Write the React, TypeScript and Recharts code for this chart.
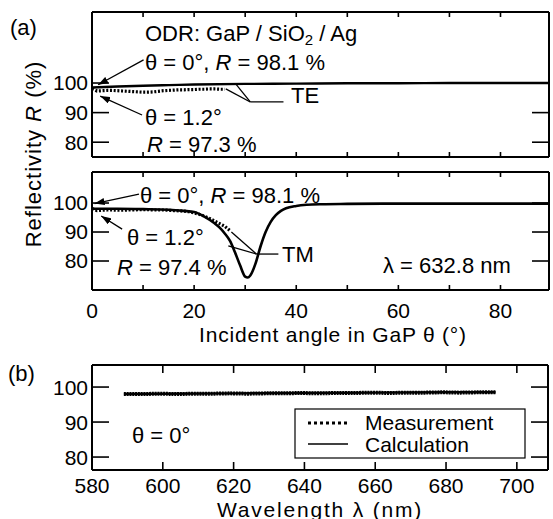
import React from 'react';
import { LineChart, Line, XAxis, YAxis, ReferenceLine } from 'recharts';

const FONT = '"Liberation Sans", Arial, Helvetica, sans-serif';

// (a) upper panel: TE, calculation and measurement
const teCalcAngle = [0, 5, 10, 15, 20, 30, 40, 50, 60, 70, 80, 89.5];
const teCalcR = [98.5, 98.8, 99.1, 99.3, 99.5, 99.7, 99.8, 99.9, 99.9, 100, 100, 100];
const teMeasAngle = [0, 1, 2, 3, 4, 5, 6, 7, 8, 9, 10, 11, 12, 13, 14, 15, 16, 17, 18, 19, 20, 21, 22, 23, 24, 25, 26];
const teMeasR = [98.1, 97.3, 97.4, 97.5, 97.5, 97.4, 97.3, 97.2, 97.1, 97.0, 96.9, 96.9, 97.0, 97.2, 97.4, 97.5, 97.6, 97.7, 97.7, 97.8, 97.8, 97.9, 97.9, 98.0, 98.0, 97.9, 97.9];

// (a) lower panel: TM
const tmCalcAngle = [0, 5, 10, 15, 18, 20, 22, 24, 25, 26, 27, 28, 29, 30, 30.5, 31, 32, 33, 34, 35, 36, 37, 38, 40, 42, 45, 50, 60, 70, 80, 89.5];
const tmCalcR = [98.0, 98.0, 97.9, 97.7, 97.3, 96.9, 95.3, 93.0, 91.5, 89.5, 87.0, 83.0, 78.5, 74.6, 74.3, 75.0, 79.0, 85.0, 90.0, 93.5, 95.8, 97.3, 98.2, 99.0, 99.4, 99.6, 99.7, 99.8, 99.8, 99.8, 99.8];
const tmMeasAngle = [0, 1, 2, 3, 4, 5, 6, 7, 8, 9, 10, 11, 12, 13, 14, 15, 16, 17, 18, 19, 20, 21, 22, 23, 24, 25, 26, 27];
const tmMeasR = [98.1, 97.4, 97.5, 97.6, 97.6, 97.5, 97.5, 97.6, 97.6, 97.7, 97.7, 97.7, 97.6, 97.6, 97.6, 97.5, 97.4, 97.3, 97.2, 97.0, 96.6, 96.1, 95.5, 94.7, 93.8, 92.9, 92.0, 90.5];

// (b) wavelength dependence at θ = 0°
const wlMeas = [589, 594, 599, 604, 609, 614, 619, 624, 629, 634, 639, 644, 649, 654, 659, 664, 669, 674, 679, 684, 689, 694];
const wlMeasR = [98.0, 98.0, 98.1, 98.0, 98.1, 98.1, 98.2, 98.1, 98.2, 98.2, 98.3, 98.2, 98.3, 98.3, 98.4, 98.3, 98.4, 98.4, 98.5, 98.4, 98.5, 98.5];
const wlCalc = [589, 600, 620, 640, 660, 680, 694];
const wlCalcR = [98.0, 98.1, 98.2, 98.3, 98.4, 98.5, 98.5];

const angleTicks = [0, 10, 20, 30, 40, 50, 60, 70, 80];
const rTicks = [80, 90, 100];
const wlTicks = [580, 600, 620, 640, 660, 680, 700];

// annotation arrows / leader lines, in data coordinates [x1, y1, x2, y2, arrowhead]
const teArrows: [number, number, number, number, boolean][] = [
  [10.1, 107.8, 1.2, 99.4, true],
  [9.8, 89.2, 1.6, 95.6, true],
  [26.2, 98.0, 31.0, 93.6, false],
  [28.1, 99.8, 31.0, 93.6, false],
  [31.0, 93.6, 37.5, 93.6, false],
];
const tmArrows: [number, number, number, number, boolean][] = [
  [9.2, 103.1, 0.5, 99.8, true],
  [5.9, 91.0, 1.8, 95.5, true],
  [27.3, 90.0, 32.2, 82.4, false],
  [26.7, 85.2, 32.2, 82.4, false],
  [32.2, 82.4, 36.5, 82.4, false],
];

const zip = (xs: number[], ys: number[]) => xs.map((x, i) => ({ x, r: ys[i] }));

const axisLine = { stroke: '#000', strokeWidth: 2 };
const tickLine = { stroke: '#000', strokeWidth: 1.6 };
const tickFont = { fontSize: 21, fill: '#000', fontFamily: FONT };
const none = () => '';

const segShape = (head: boolean) => (p: any) => (
  <line x1={p.x1} y1={p.y1} x2={p.x2} y2={p.y2} stroke="#000" strokeWidth={1.3}
    markerEnd={head ? 'url(#arrowHead)' : undefined} />
);

function frame(xDomain: number[], xTicks: number[], yDomain: number[], xLen: number, xFormat: (v: number) => string, xMargin: number, xHeight: number) {
  return [
    <XAxis key="xb" type="number" dataKey="x" domain={xDomain} ticks={xTicks} interval={0} allowDataOverflow
      height={xHeight} tickSize={-xLen} tickMargin={xMargin} tickFormatter={xFormat}
      axisLine={axisLine} tickLine={tickLine} tick={tickFont} />,
    <XAxis key="xt" xAxisId="t" orientation="top" type="number" dataKey="x" domain={xDomain} ticks={xTicks} interval={0}
      allowDataOverflow height={1} tickSize={-xLen} tickFormatter={none} axisLine={axisLine} tickLine={tickLine} />,
    <YAxis key="yl" type="number" domain={yDomain} ticks={rTicks} interval={0} allowDataOverflow width={92}
      tickSize={-17} tickMargin={21} axisLine={axisLine} tickLine={tickLine} tick={tickFont} />,
    <YAxis key="yr" yAxisId="r" orientation="right" type="number" domain={yDomain} ticks={rTicks} interval={0}
      allowDataOverflow width={1} tickSize={-17} tickFormatter={none} axisLine={axisLine} tickLine={tickLine} />,
  ];
}

const measStyle = { stroke: '#000', strokeWidth: 3.2, strokeDasharray: '2 1.7' };

export default function App() {
  const angleFmt = (v: number) => (v % 20 === 0 ? String(v) : '');
  return (
    <div style={{ position: 'absolute', left: 0, top: 0, width: 553, height: 519, background: '#fff', fontFamily: FONT }}>
      <div style={{ position: 'absolute', left: 0, top: 0 }}>
        <LineChart width={553} height={170} margin={{ top: 11, right: 3, bottom: 12, left: 0 }}>
          {frame([0, 89.5], angleTicks, [75, 124], 5, none, 0, 1)}
          <Line data={zip(teCalcAngle, teCalcR)} dataKey="r" type="monotone" stroke="#000" strokeWidth={2.4}
            dot={false} activeDot={false} isAnimationActive={false} />
          <Line data={zip(teMeasAngle, teMeasR)} dataKey="r" type="linear" {...measStyle}
            dot={false} activeDot={false} isAnimationActive={false} />
          {teArrows.map((a, i) => (
            <ReferenceLine key={i} segment={[{ x: a[0], y: a[1] }, { x: a[2], y: a[3] }]} shape={segShape(a[4])} ifOverflow="visible" />
          ))}
        </LineChart>
      </div>
      <div style={{ position: 'absolute', left: 0, top: 160 }}>
        <LineChart width={553} height={180} margin={{ top: 11, right: 3, bottom: 0, left: 0 }}>
          {frame([0, 89.5], angleTicks, [70, 110.7], 5, angleFmt, 18, 50)}
          <Line data={zip(tmCalcAngle, tmCalcR)} dataKey="r" type="monotone" stroke="#000" strokeWidth={2.6}
            dot={false} activeDot={false} isAnimationActive={false} />
          <Line data={zip(tmMeasAngle, tmMeasR)} dataKey="r" type="linear" {...measStyle}
            dot={false} activeDot={false} isAnimationActive={false} />
          {tmArrows.map((a, i) => (
            <ReferenceLine key={i} segment={[{ x: a[0], y: a[1] }, { x: a[2], y: a[3] }]} shape={segShape(a[4])} ifOverflow="visible" />
          ))}
        </LineChart>
      </div>
      <div style={{ position: 'absolute', left: 0, top: 350 }}>
        <LineChart width={553} height={169} margin={{ top: 14, right: 4, bottom: 0, left: 0 }}>
          {frame([580, 708.8], wlTicks, [76.3, 106.3], 8, (v: number) => String(v), 16, 49)}
          <Line data={zip(wlCalc, wlCalcR)} dataKey="r" type="linear" stroke="#000" strokeWidth={2.4}
            dot={false} activeDot={false} isAnimationActive={false} />
          <Line data={zip(wlMeas, wlMeasR)} dataKey="r" type="linear" stroke="#000" strokeWidth={4} strokeDasharray="2 0.8"
            dot={false} activeDot={false} isAnimationActive={false} />
        </LineChart>
      </div>
      <svg width={553} height={519} style={{ position: 'absolute', left: 0, top: 0, pointerEvents: 'none' }}
        fontFamily={FONT} fill="#000">
        <defs>
          <marker id="arrowHead" viewBox="0 0 10 7" refX="10" refY="3.5" markerWidth="10" markerHeight="7"
            markerUnits="userSpaceOnUse" orient="auto">
            <path d="M0,0 L10,3.5 L0,7 z" fill="#000" />
          </marker>
        </defs>
        <g fontSize={22} dominantBaseline="central">
          <text x={10} y={27}>(a)</text>
          <text x={8} y={373}>(b)</text>
          <text x={145} y={33}>ODR: GaP / SiO<tspan fontSize={15} dy={6}>2</tspan><tspan dy={-6}> / Ag</tspan></text>
          <text x={145} y={62}>θ = 0°, <tspan fontStyle="italic">R</tspan> = 98.1 %</text>
          <text x={145} y={117}>θ = 1.2°</text>
          <text x={147} y={144}><tspan fontStyle="italic">R</tspan> = 97.3 %</text>
          <text x={291} y={95}>TE</text>
          <text x={140} y={195}>θ = 0°, <tspan fontStyle="italic">R</tspan> = 98.1 %</text>
          <text x={127} y={237}>θ = 1.2°</text>
          <text x={117} y={267}><tspan fontStyle="italic">R</tspan> = 97.4 %</text>
          <text x={282} y={254}>TM</text>
          <text x={383} y={265}>λ = 632.8 nm</text>
          <text x={333} y={334} fontSize={21} letterSpacing={0.8} textAnchor="middle">Incident angle in GaP  θ  (°)</text>
          <text x={33} y={154} letterSpacing={1} textAnchor="middle" transform="rotate(-90 33 154)">Reflectivity  <tspan fontStyle="italic">R</tspan>  (%)</text>
          <text x={132} y={435}>θ = 0°</text>
          <text x={320} y={509} fontSize={21} letterSpacing={1.8} textAnchor="middle">Wavelength λ (nm)</text>
          <rect x={295} y={409} width={230} height={49} fill="none" stroke="#000" strokeWidth={1.2} />
          <line x1={308} y1={423} x2={348} y2={423} stroke="#000" strokeWidth={3} strokeDasharray="3 3" />
          <line x1={308} y1={444} x2={348} y2={444} stroke="#000" strokeWidth={1.6} />
          <text x={365} y={422} fontSize={21}>Measurement</text>
          <text x={365} y={444} fontSize={21}>Calculation</text>
        </g>
      </svg>
    </div>
  );
}
